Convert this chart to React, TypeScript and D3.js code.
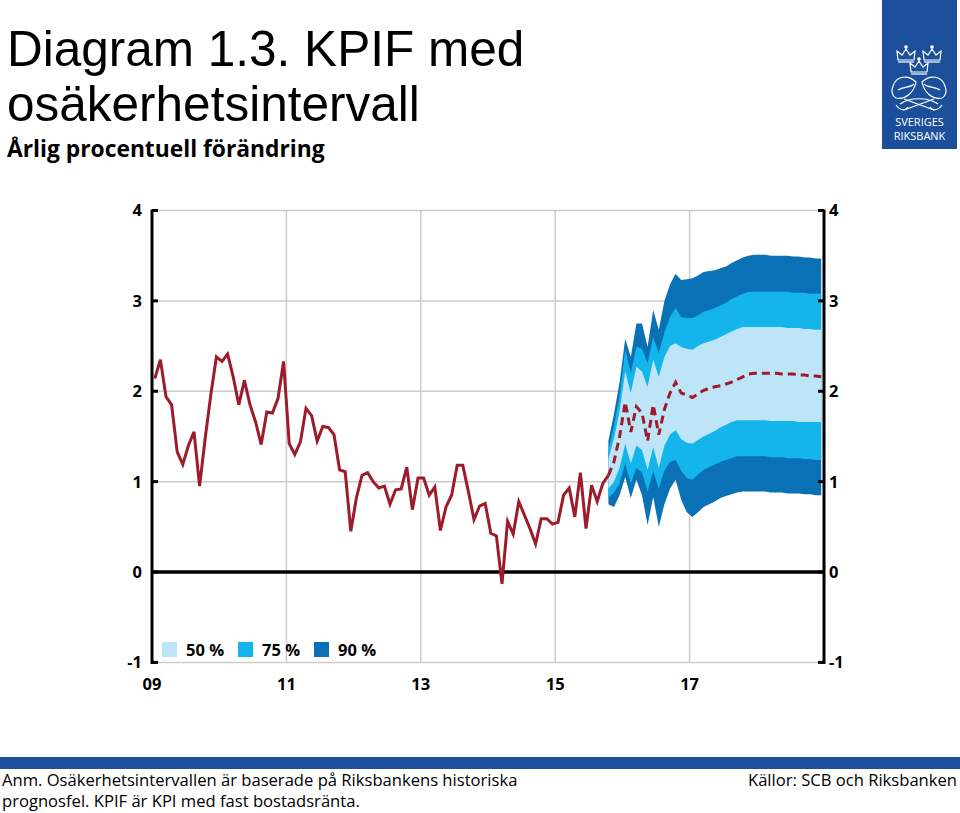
import React from 'react';
import * as d3 from 'd3';

// ---------- DATA ----------
// KPIF, annual % change, monthly from Jan 2009 to Oct 2015
const historical = [
  2.14, 2.35, 1.94, 1.85, 1.33, 1.19, 1.40, 1.55, 0.95, 1.48, 1.96, 2.38,
  2.33, 2.41, 2.16, 1.85, 2.12, 1.85, 1.66, 1.41, 1.77, 1.76, 1.92, 2.33,
  1.42, 1.30, 1.44, 1.81, 1.73, 1.45, 1.61, 1.60, 1.52, 1.13, 1.11, 0.45,
  0.82, 1.07, 1.10, 1.00, 0.93, 0.95, 0.75, 0.91, 0.92, 1.16, 0.69, 1.04,
  1.04, 0.85, 0.94, 0.46, 0.72, 0.85, 1.18, 1.18, 0.89, 0.58, 0.73, 0.76,
  0.43, 0.40, -0.13, 0.56, 0.42, 0.78, 0.63, 0.48, 0.31, 0.59, 0.59, 0.53,
  0.55, 0.85, 0.93, 0.61, 1.10, 0.48, 0.96, 0.78, 0.98, 1.07,
];
const historyStart = 2009; // first month: Jan 2009
const forecastStartIndex = 81; // Oct 2015 (month index from Jan 2009)

// Forecast (median) and uncertainty bands, monthly Oct 2015 - Dec 2018
const forecast = [
  1.07, 1.22, 1.50,
  1.88, 1.55, 1.83, 1.76, 1.45, 1.85, 1.52, 1.80, 1.98, 2.10, 1.98, 1.96,
  1.93, 1.97, 2.01, 2.03, 2.05, 2.06, 2.08, 2.10, 2.13, 2.16, 2.19, 2.20,
  2.20, 2.20, 2.20, 2.20, 2.19, 2.19, 2.19, 2.18, 2.18, 2.17, 2.17, 2.16,
];
const upper90 = [
  1.45, 1.75, 2.10,
  2.58, 2.38, 2.75, 2.75, 2.49, 2.90, 2.68, 3.00, 3.18, 3.30, 3.23, 3.24,
  3.25, 3.28, 3.32, 3.33, 3.34, 3.36, 3.38, 3.42, 3.45, 3.48, 3.50, 3.51,
  3.51, 3.51, 3.50, 3.50, 3.50, 3.50, 3.49, 3.49, 3.48, 3.48, 3.47, 3.47,
];
const upper75 = [
  1.35, 1.62, 1.95,
  2.46, 2.20, 2.49, 2.47, 2.31, 2.60, 2.42, 2.65, 2.82, 2.92, 2.82, 2.81,
  2.81, 2.84, 2.88, 2.90, 2.92, 2.95, 2.98, 3.02, 3.05, 3.08, 3.10, 3.10,
  3.10, 3.10, 3.10, 3.10, 3.10, 3.10, 3.09, 3.09, 3.09, 3.08, 3.08, 3.08,
];
const upper50 = [
  1.25, 1.48, 1.78,
  2.22, 1.98, 2.27, 2.22, 2.05, 2.35, 2.16, 2.38, 2.50, 2.53, 2.49, 2.47,
  2.46, 2.50, 2.53, 2.55, 2.57, 2.60, 2.63, 2.66, 2.69, 2.71, 2.71, 2.71,
  2.71, 2.71, 2.71, 2.71, 2.71, 2.70, 2.70, 2.70, 2.69, 2.69, 2.68, 2.68,
];
const lower50 = [
  0.92, 1.00, 1.15,
  1.42, 1.20, 1.40, 1.35, 1.13, 1.38, 1.15, 1.40, 1.52, 1.57, 1.47, 1.43,
  1.42, 1.46, 1.50, 1.53, 1.56, 1.60, 1.63, 1.66, 1.68, 1.68, 1.68, 1.68,
  1.68, 1.68, 1.67, 1.67, 1.67, 1.67, 1.67, 1.66, 1.66, 1.66, 1.66, 1.66,
];
const lower75 = [
  0.82, 0.88, 0.98,
  1.20, 0.98, 1.15, 1.10, 0.89, 1.12, 0.92, 1.12, 1.22, 1.24, 1.12, 1.04,
  1.02, 1.08, 1.13, 1.16, 1.19, 1.22, 1.24, 1.26, 1.28, 1.28, 1.28, 1.28,
  1.28, 1.28, 1.27, 1.27, 1.27, 1.26, 1.26, 1.26, 1.25, 1.25, 1.24, 1.24,
];
const lower90 = [
  0.75, 0.72, 0.85,
  1.05, 0.82, 1.02, 0.85, 0.52, 0.83, 0.50, 0.75, 0.92, 1.02, 0.80, 0.66,
  0.61, 0.66, 0.72, 0.75, 0.78, 0.82, 0.84, 0.86, 0.88, 0.89, 0.89, 0.89,
  0.89, 0.89, 0.88, 0.88, 0.88, 0.87, 0.87, 0.87, 0.86, 0.86, 0.85, 0.85,
];

const yTicks = [-1, 0, 1, 2, 3, 4];
const xTicks = [2009, 2011, 2013, 2015, 2017];
const xTickLabels = ['09', '11', '13', '15', '17'];
const legendLabels = ['50 %', '75 %', '90 %'];

const title1 = 'Diagram 1.3. KPIF med';
const title2 = 'osäkerhetsintervall';
const subtitle = 'Årlig procentuell förändring';
const note1 = 'Anm. Osäkerhetsintervallen är baserade på Riksbankens historiska';
const note2 = 'prognosfel. KPIF är KPI med fast bostadsränta.';
const source = 'Källor: SCB och Riksbanken';

// ---------- STYLE ----------
const C_LINE = '#9d1c2b';
const C50 = '#bee4f8';
const C75 = '#14b5ea';
const C90 = '#0a71b6';
const C_GRID = '#cccccc';
const C_BLUE = '#1b4f9c';
const bandColors = [C50, C75, C90];
const TICK_FONT = '"Open Sans", "Noto Sans", sans-serif';

export default function App() {
  const x = d3.scaleLinear().domain([2009, 2019]).range([152, 824]);
  const y = d3.scaleLinear().domain([-1, 4]).range([662.4, 210.5]);

  const tOf = (i: number) => historyStart + (i + 0.5) / 12;

  const hist = historical.map((v, i) => ({ t: tOf(i), v }));
  const fc = forecast.map((v, i) => ({
    t: tOf(forecastStartIndex + i),
    v,
    u90: upper90[i], l90: lower90[i],
    u75: upper75[i], l75: lower75[i],
    u50: upper50[i], l50: lower50[i],
  }));

  const line = d3.line<{ t: number; v: number }>().x(d => x(d.t)).y(d => y(d.v));
  const band = (uk: string, lk: string) =>
    d3.area<any>().x(d => x(d.t)).y0(d => y(d[lk])).y1(d => y(d[uk]))(fc) || '';

  const left = x.range()[0];
  const right = x.range()[1];
  const top = y(4);
  const bottom = y(-1);

  return (
    <svg width={960} height={813} style={{ position: 'absolute', left: 0, top: 0, background: '#fff' }}>
      <rect x={0} y={0} width={960} height={813} fill="#fff" />
      {/* titles */}
      <text x={7} y={66} fontFamily='"Liberation Sans", Arial, sans-serif' fontSize={49.5} fill="#000">{title1}</text>
      <text x={7} y={121} fontFamily='"Liberation Sans", Arial, sans-serif' fontSize={49.5} fill="#000">{title2}</text>
      <text x={7} y={157} fontFamily={TICK_FONT} fontWeight="bold" fontSize={22.8} fill="#000">{subtitle}</text>

      {/* logo */}
      <g>
        <rect x={882} y={0} width={75} height={149} fill={C_BLUE} />
        <g fill="none" stroke="#fff" strokeWidth={1.2}>
          {[[906, 54], [932, 54], [919, 66]].map(([cx, cy], k) => (
            <g key={k}>
              <path d={`M${cx - 8},${cy + 6} L${cx - 9},${cy - 3} L${cx - 4},${cy + 1} L${cx},${cy - 5} L${cx + 4},${cy + 1} L${cx + 9},${cy - 3} L${cx + 8},${cy + 6} Z`} />
              <line x1={cx - 8} y1={cy + 8} x2={cx + 8} y2={cy + 8} />
              <circle cx={cx} cy={cy - 7} r={1.2} fill="#fff" />
            </g>
          ))}
          <path d="M893,86 C896,76 908,74 916,82 C914,92 906,100 896,98 C892,96 891,91 893,86 Z" />
          <path d="M945,86 C942,76 930,74 922,82 C924,92 932,100 942,98 C946,96 947,91 945,86 Z" />
          <path d="M898,90 C904,86 910,88 914,84" />
          <path d="M940,90 C934,86 928,88 924,84" />
          <path d="M900,104 C910,97 928,97 938,104" />
          <path d="M904,110 L934,99 M904,99 L934,110" />
          <path d="M896,105 C900,111 906,111 908,107" />
          <path d="M942,105 C938,111 932,111 930,107" />
        </g>
        <text x={919.5} y={126} textAnchor="middle" fill="#fff" fontFamily={TICK_FONT} fontSize={11}>SVERIGES</text>
        <text x={919.5} y={140} textAnchor="middle" fill="#fff" fontFamily={TICK_FONT} fontSize={11}>RIKSBANK</text>
      </g>

      {/* grid */}
      {yTicks.filter(v => v !== 0).map(v => (
        <line key={'gy' + v} x1={left} x2={right} y1={y(v)} y2={y(v)} stroke={C_GRID} strokeWidth={1.5} />
      ))}
      {xTicks.filter(t => t !== 2009).map(t => (
        <line key={'gx' + t} x1={x(t)} x2={x(t)} y1={top} y2={bottom} stroke={C_GRID} strokeWidth={1.5} />
      ))}

      {/* fan */}
      <path d={band('u90', 'l90')} fill={C90} />
      <path d={band('u75', 'l75')} fill={C75} />
      <path d={band('u50', 'l50')} fill={C50} />

      {/* zero line */}
      <line x1={left} x2={right} y1={y(0)} y2={y(0)} stroke="#000" strokeWidth={3.5} />

      {/* axes */}
      <line x1={left} x2={left} y1={top - 1} y2={bottom + 1.5} stroke="#000" strokeWidth={3} />
      <line x1={right} x2={right} y1={top - 1} y2={bottom + 1.5} stroke="#000" strokeWidth={3} />
      {yTicks.map(v => (
        <g key={'t' + v}>
          <line x1={left} x2={left + 6} y1={y(v)} y2={y(v)} stroke="#000" strokeWidth={3} />
          <line x1={right - 6} x2={right} y1={y(v)} y2={y(v)} stroke="#000" strokeWidth={3} />
          <text x={142} y={y(v)} dy="0.36em" textAnchor="end" fontFamily={TICK_FONT} fontWeight="bold" fontSize={16.5}>{v}</text>
          <text x={829} y={y(v)} dy="0.36em" textAnchor="start" fontFamily={TICK_FONT} fontWeight="bold" fontSize={16.5}>{v}</text>
        </g>
      ))}
      {xTicks.map((t, k) => (
        <text key={'xl' + t} x={x(t)} y={690} textAnchor="middle" fontFamily={TICK_FONT} fontWeight="bold" fontSize={16.5}>{xTickLabels[k]}</text>
      ))}

      {/* lines */}
      <path d={line(hist) || ''} fill="none" stroke={C_LINE} strokeWidth={3} strokeLinejoin="miter" />
      <path d={line(fc) || ''} fill="none" stroke={C_LINE} strokeWidth={3} strokeDasharray="8,5" />

      {/* legend */}
      {legendLabels.map((lab, k) => (
        <g key={lab} transform={`translate(${162 + k * 76},642)`}>
          <rect x={0} y={0} width={15} height={15} fill={bandColors[k]} />
          <text x={24} y={13.5} fontFamily={TICK_FONT} fontWeight="bold" fontSize={16.5}>{lab}</text>
        </g>
      ))}

      {/* footer */}
      <rect x={0} y={757} width={960} height={12} fill={C_BLUE} />
      <text x={2} y={786} fontFamily={TICK_FONT} fontSize={16.6} fill="#000">{note1}</text>
      <text x={2} y={807} fontFamily={TICK_FONT} fontSize={16.6} fill="#000">{note2}</text>
      <text x={957} y={786} textAnchor="end" fontFamily={TICK_FONT} fontSize={16.6} fill="#000">{source}</text>
    </svg>
  );
}
